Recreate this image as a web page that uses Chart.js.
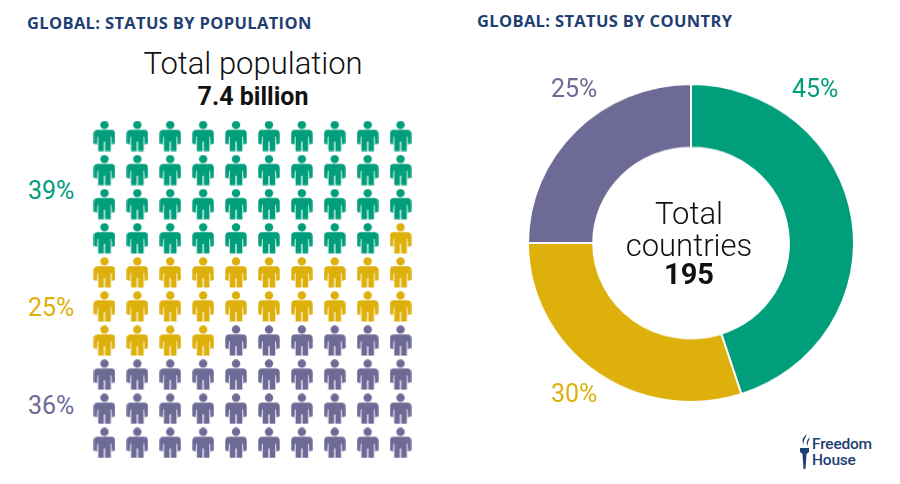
<!DOCTYPE html>
<html>
<head>
<meta charset="utf-8">
<script src="https://cdn.jsdelivr.net/npm/chart.js@4"></script>
<style>
html, body { margin: 0; padding: 0; background: #fff; }
#page { position: relative; width: 900px; height: 484px; overflow: hidden; font-family: Roboto, sans-serif; }
#page canvas { position: absolute; }
.txt { position: absolute; white-space: nowrap; line-height: 1; }
.head { color: #1f3f73; font-family: "Open Sans", sans-serif; font-size: 16.5px; font-weight: 700; letter-spacing: 0.35px; }
.center { transform: translateX(-50%); color: #111; }
.pct { font-size: 25px; font-weight: 400; }
</style>
</head>
<body>
<div id="page">
  <canvas id="peopleChart" style="left:87.5px;top:119px"></canvas>
  <canvas id="countryChart" style="left:527px;top:79px;transform:scaleY(0.975)"></canvas>

  <div class="txt head" style="left:27px;top:15px">GLOBAL: STATUS BY POPULATION</div>
  <div class="txt head" style="left:477px;top:13px">GLOBAL: STATUS BY COUNTRY</div>

  <div class="txt center" style="left:253px;top:48px;font-size:31px;font-weight:300">Total population</div>
  <div class="txt center" style="left:253px;top:84px;font-size:25px;font-weight:700">7.4 billion</div>

  <div class="txt center" style="left:689px;top:198px;font-size:31px;font-weight:300">Total</div>
  <div class="txt center" style="left:689px;top:230px;font-size:31px;font-weight:300">countries</div>
  <div class="txt center" style="left:689px;top:260px;font-size:29px;font-weight:700" id="countryTotal"></div>

  <svg style="position:absolute;left:799px;top:433px" width="14" height="38" viewBox="0 0 14 36">
    <path d="M8 0 C2 5 3 8 5 10 C4 7 6 5 8 0 Z M11 3 C7 7 7 10 9 12 C8 9 10 7 11 3 Z" fill="#1f3f73"/>
    <path d="M1 14 H10 V18 L7.5 20 L6.5 35 H4.5 L3.5 20 L1 18 Z" fill="#1f3f73"/>
  </svg>
  <div class="txt" style="left:812px;top:437px;font-size:15.5px;font-weight:500;color:#1f3f73;line-height:15.5px;letter-spacing:-0.2px">Freedom<br>House</div>
</div>

<script>
const statusNames = ["Free", "Partly Free", "Not Free"];
const statusColors = ["#009e7b", "#deb00b", "#6e6a96"];

// people out of 100, left to right and top to bottom
const peopleCounts = [39, 25, 36];
const peoplePerRow = 10;

const countryLabels = ["Free", "Partly Free", "Not Free"];
const countryShares = [45, 30, 25];
const countryColors = ["#009e7b", "#deb00b", "#6e6a96"];
const countryTotal = 195;

function makePerson(color) {
    const c = document.createElement("canvas");
    c.width = 22;
    c.height = 31;
    const g = c.getContext("2d");
    g.fillStyle = color;
    // head
    g.beginPath();
    g.arc(11, 4.4, 4.2, 0, Math.PI * 2);
    g.fill();
    // body with arms, thin slits between arm and torso
    g.beginPath();
    g.moveTo(4, 9.2);
    g.lineTo(18, 9.2);
    g.quadraticCurveTo(21.7, 9.2, 21.7, 13);
    g.lineTo(21.7, 23);
    g.lineTo(18.4, 24);
    g.lineTo(18, 16);
    g.lineTo(17.3, 16);
    g.lineTo(17.3, 30.5);
    g.lineTo(11.6, 30.5);
    g.lineTo(11.6, 21);
    g.lineTo(10.4, 21);
    g.lineTo(10.4, 30.5);
    g.lineTo(4.7, 30.5);
    g.lineTo(4.7, 16);
    g.lineTo(4, 16);
    g.lineTo(3.6, 24);
    g.lineTo(0.3, 23);
    g.lineTo(0.3, 13);
    g.quadraticCurveTo(0.3, 9.2, 4, 9.2);
    g.closePath();
    g.fill();
    return c;
}

function initPeopleChart() {
    const ctx = document.getElementById("peopleChart");
    let n = 0;
    const datasets = peopleCounts.map((count, i) => {
        const pts = [];
        for (let k = 0; k < count; k++) {
            pts.push({ x: n % peoplePerRow, y: Math.floor(n / peoplePerRow) });
            n++;
        }
        return {
            label: statusNames[i],
            data: pts,
            pointStyle: makePerson(statusColors[i]),
            clip: false
        };
    });

    new Chart(ctx, {
        type: "scatter",
        data: { datasets },
        options: {
            responsive: false,
            animation: false,
            layout: { autoPadding: false },
            plugins: { legend: { display: false }, tooltip: { enabled: false } },
            scales: {
                x: { display: false, min: -0.5, max: 9.5 },
                y: { display: false, min: -0.5, max: 9.5, reverse: true }
            }
        }
    });
}

function initCountryChart() {
    const ctx = document.getElementById("countryChart");
    new Chart(ctx, {
        type: "doughnut",
        data: {
            labels: countryLabels,
            datasets: [{
                data: countryShares,
                backgroundColor: countryColors,
                borderColor: "#fff",
                borderWidth: 2
            }]
        },
        options: {
            responsive: false,
            animation: false,
            cutout: "60%",
            plugins: { legend: { display: false }, tooltip: { enabled: false } }
        }
    });
}

function addLabel(text, x, y, color) {
    const el = document.createElement("div");
    el.className = "txt pct";
    el.style.left = x + "px";
    el.style.top = y + "px";
    el.style.color = color;
    el.innerText = text;
    document.getElementById("page").appendChild(el);
}

const pc = document.getElementById("peopleChart");
pc.width = 329; pc.height = 341;
const cc = document.getElementById("countryChart");
cc.width = 328; cc.height = 328;

initPeopleChart();
initCountryChart();

document.getElementById("countryTotal").innerText = countryTotal;

addLabel(peopleCounts[0] + "%", 28, 178, statusColors[0]);
addLabel(peopleCounts[1] + "%", 28, 295, statusColors[1]);
addLabel(peopleCounts[2] + "%", 28, 393, statusColors[2]);
addLabel(countryShares[0] + "%", 792, 76, countryColors[0]);
addLabel(countryShares[1] + "%", 551, 381, countryColors[1]);
addLabel(countryShares[2] + "%", 551, 76, countryColors[2]);
</script>
</body>
</html>
